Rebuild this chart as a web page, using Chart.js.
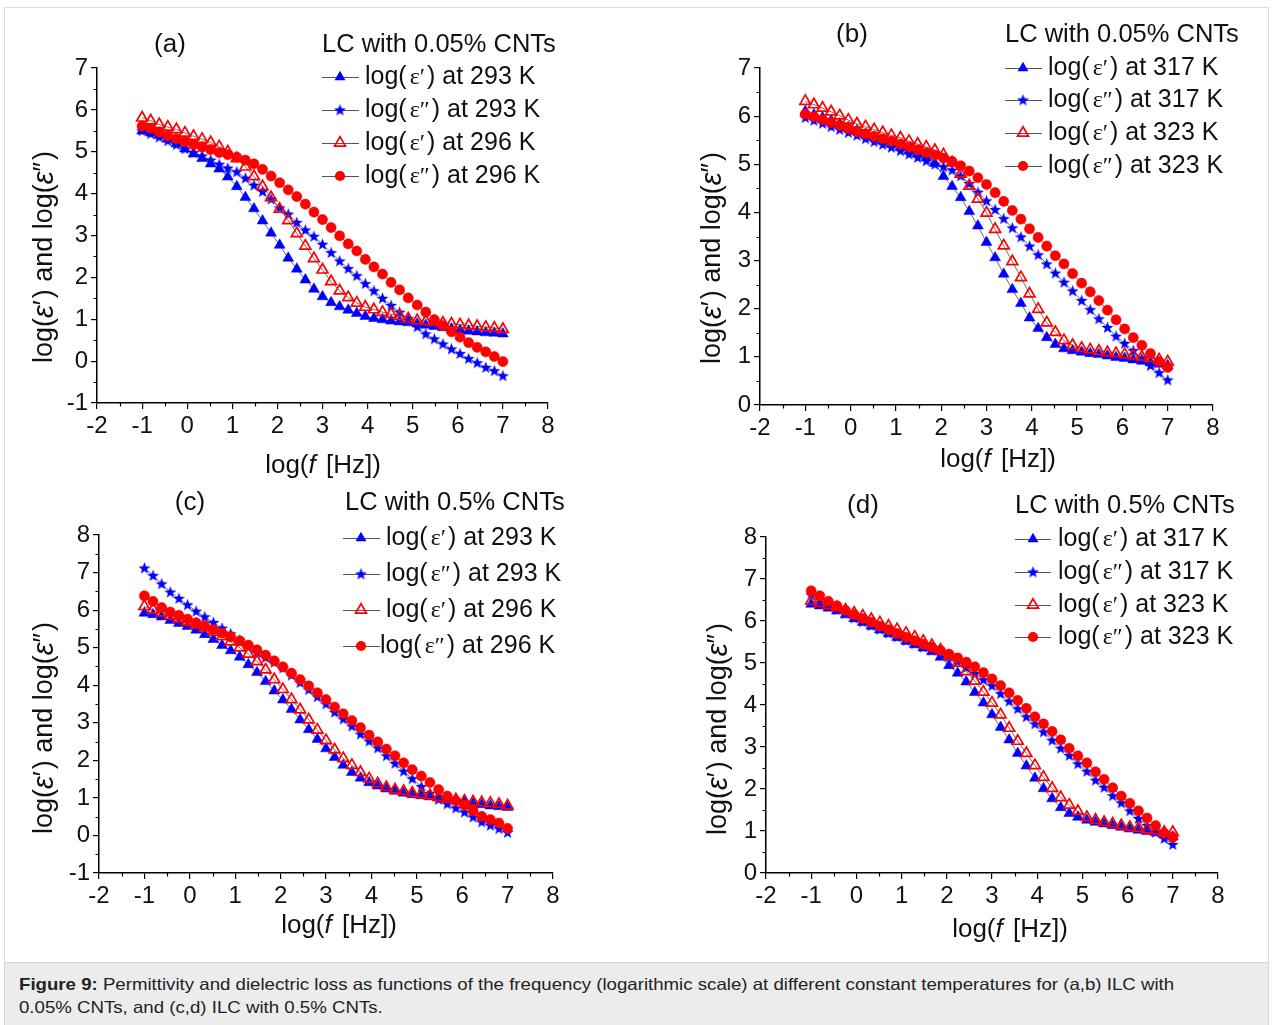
<!DOCTYPE html>
<html><head><meta charset="utf-8">
<script src="https://cdn.jsdelivr.net/npm/chart.js@4.4.1/dist/chart.umd.min.js"></script>
<style>
html,body{margin:0;padding:0;background:#fff;}
body{width:1273px;height:1025px;position:relative;overflow:hidden;font-family:"Liberation Sans",Arial,sans-serif;}
#frame{position:absolute;left:4px;top:7px;width:1265px;height:955px;border:1px solid #dcdcdc;border-bottom:none;box-sizing:border-box;}
#cap{position:absolute;left:4px;top:962px;width:1265px;height:70px;background:#ececec;border:1px solid #d4d4d4;box-sizing:border-box;}
#capText{position:absolute;left:19px;top:973px;font-size:16.5px;line-height:23px;color:#222;white-space:nowrap;transform:scaleX(1.13);transform-origin:0 0;}
canvas{position:absolute;}
</style></head>
<body>
<div id="frame"></div>
<div id="cap"></div>
<div id="capText"><b>Figure 9:</b> Permittivity and dielectric loss as functions of the frequency (logarithmic scale) at different constant temperatures for (a,b) ILC with<br>0.05% CNTs, and (c,d) ILC with 0.5% CNTs.</div>
<script>
// ---------- DATA ----------
const logF = [-1.00,-0.81,-0.62,-0.43,-0.24,-0.05,0.14,0.33,0.52,0.71,0.90,1.10,1.29,1.48,1.67,1.86,2.05,2.24,2.43,2.62,2.81,3.00,3.19,3.38,3.57,3.76,3.95,4.14,4.33,4.52,4.71,4.90,5.10,5.29,5.48,5.67,5.86,6.05,6.24,6.43,6.62,6.81,7.00];

// (a) LC with 0.05% CNTs, 293 K / 296 K
const a_eps1_293 = [5.50,5.45,5.39,5.30,5.19,5.07,4.95,4.84,4.71,4.59,4.40,4.17,3.91,3.64,3.35,3.06,2.77,2.46,2.20,1.94,1.72,1.54,1.40,1.30,1.22,1.14,1.07,1.02,0.99,0.96,0.94,0.92,0.89,0.86,0.83,0.80,0.77,0.74,0.72,0.70,0.68,0.67,0.65];
const a_eps2_293 = [5.50,5.43,5.35,5.26,5.17,5.07,4.98,4.90,4.80,4.70,4.61,4.52,4.37,4.20,4.05,3.87,3.66,3.51,3.31,3.13,2.98,2.79,2.59,2.39,2.21,2.04,1.85,1.68,1.50,1.33,1.17,1.02,0.82,0.65,0.53,0.41,0.29,0.18,0.06,-0.04,-0.15,-0.23,-0.35];
const a_eps1_296 = [5.81,5.74,5.65,5.59,5.53,5.45,5.37,5.30,5.22,5.12,5.00,4.84,4.64,4.41,4.17,3.91,3.63,3.36,3.05,2.75,2.45,2.18,1.90,1.68,1.52,1.39,1.29,1.23,1.17,1.12,1.07,1.01,0.97,0.95,0.93,0.91,0.89,0.87,0.85,0.83,0.81,0.79,0.76];
const a_eps2_296 = [5.61,5.56,5.47,5.38,5.31,5.24,5.17,5.11,5.05,4.98,4.93,4.87,4.80,4.71,4.58,4.42,4.26,4.09,3.93,3.75,3.56,3.38,3.19,2.99,2.80,2.63,2.43,2.25,2.08,1.88,1.70,1.51,1.34,1.17,0.99,0.85,0.70,0.57,0.44,0.33,0.22,0.11,-0.01];

// (b) LC with 0.05% CNTs, 317 K / 323 K
const b_eps1_317 = [6.10,6.03,5.97,5.91,5.84,5.77,5.70,5.63,5.56,5.49,5.42,5.35,5.28,5.22,5.14,5.02,4.75,4.54,4.31,4.02,3.72,3.38,3.06,2.72,2.40,2.11,1.81,1.59,1.40,1.26,1.17,1.13,1.10,1.07,1.05,1.02,0.99,0.97,0.94,0.91,0.88,0.85,0.82];
const b_eps2_317 = [5.97,5.91,5.85,5.78,5.72,5.66,5.60,5.53,5.47,5.41,5.35,5.28,5.21,5.14,5.07,5.00,4.95,4.88,4.76,4.60,4.42,4.24,4.06,3.87,3.68,3.49,3.30,3.12,2.93,2.74,2.55,2.37,2.17,1.98,1.79,1.61,1.43,1.28,1.13,0.97,0.82,0.67,0.52];
const b_eps1_323 = [6.31,6.24,6.17,6.09,6.01,5.92,5.84,5.78,5.72,5.66,5.60,5.55,5.48,5.42,5.36,5.29,5.20,5.03,4.80,4.55,4.28,3.99,3.65,3.31,2.98,2.65,2.31,1.99,1.71,1.51,1.34,1.24,1.18,1.15,1.12,1.09,1.07,1.05,1.03,1.00,0.97,0.94,0.90];
const b_eps2_323 = [6.04,5.99,5.93,5.87,5.81,5.74,5.68,5.63,5.58,5.53,5.48,5.42,5.36,5.30,5.24,5.19,5.13,5.06,4.97,4.86,4.72,4.58,4.41,4.23,4.04,3.86,3.66,3.48,3.30,3.10,2.93,2.73,2.53,2.35,2.17,1.97,1.77,1.58,1.40,1.24,1.07,0.90,0.78];

// (c) LC with 0.5% CNTs, 293 K / 296 K
const c_eps1_293 = [5.92,5.88,5.82,5.73,5.65,5.57,5.47,5.35,5.22,5.06,4.92,4.75,4.55,4.34,4.10,3.85,3.61,3.36,3.08,2.82,2.56,2.31,2.08,1.87,1.68,1.53,1.41,1.32,1.24,1.18,1.13,1.09,1.06,1.03,1.00,0.97,0.93,0.89,0.85,0.82,0.79,0.77,0.75];
const c_eps2_293 = [7.12,6.92,6.70,6.48,6.31,6.14,5.97,5.82,5.67,5.52,5.37,5.20,5.03,4.87,4.74,4.61,4.46,4.27,4.07,3.88,3.69,3.50,3.28,3.10,2.91,2.70,2.51,2.33,2.12,1.92,1.71,1.51,1.30,1.12,0.96,0.84,0.73,0.62,0.49,0.36,0.27,0.18,0.08];
const c_eps1_296 = [6.10,6.01,5.93,5.85,5.77,5.69,5.61,5.53,5.42,5.30,5.16,5.00,4.83,4.63,4.41,4.15,3.89,3.62,3.35,3.08,2.81,2.53,2.28,2.05,1.87,1.68,1.51,1.38,1.28,1.22,1.18,1.13,1.10,1.06,1.02,0.97,0.95,0.92,0.90,0.88,0.86,0.83,0.79];
const c_eps2_296 = [6.38,6.23,6.07,5.95,5.86,5.76,5.66,5.58,5.48,5.39,5.29,5.18,5.07,4.94,4.80,4.65,4.49,4.32,4.15,3.98,3.80,3.62,3.42,3.24,3.06,2.87,2.67,2.49,2.30,2.12,1.93,1.75,1.58,1.41,1.22,1.05,0.92,0.80,0.66,0.51,0.42,0.33,0.19];

// (d) LC with 0.5% CNTs, 317 K / 323 K
const d_eps1_317 = [6.40,6.36,6.31,6.24,6.15,6.06,5.97,5.88,5.79,5.70,5.61,5.52,5.44,5.36,5.27,5.14,4.94,4.76,4.55,4.30,4.05,3.77,3.47,3.17,2.85,2.55,2.26,2.01,1.77,1.56,1.42,1.33,1.26,1.21,1.17,1.13,1.09,1.05,1.02,0.99,0.96,0.91,0.86];
const d_eps2_317 = [6.62,6.50,6.38,6.28,6.18,6.07,5.98,5.89,5.80,5.71,5.62,5.53,5.46,5.38,5.31,5.24,5.15,5.04,4.89,4.75,4.60,4.46,4.27,4.09,3.91,3.72,3.55,3.36,3.16,2.97,2.80,2.60,2.42,2.21,2.04,1.84,1.67,1.48,1.30,1.13,0.97,0.82,0.68];
const d_eps1_323 = [6.48,6.42,6.37,6.32,6.26,6.19,6.12,6.04,5.96,5.88,5.80,5.71,5.62,5.52,5.42,5.31,5.16,5.00,4.80,4.57,4.31,4.05,3.77,3.45,3.14,2.85,2.56,2.28,2.02,1.80,1.62,1.47,1.33,1.26,1.21,1.17,1.13,1.09,1.07,1.03,1.00,0.97,0.97];
const d_eps2_323 = [6.72,6.60,6.47,6.36,6.25,6.15,6.06,5.97,5.88,5.79,5.70,5.61,5.53,5.45,5.37,5.30,5.21,5.12,5.02,4.91,4.77,4.62,4.46,4.29,4.11,3.92,3.72,3.55,3.37,3.17,2.97,2.79,2.62,2.41,2.23,2.03,1.83,1.66,1.48,1.31,1.13,0.95,0.85];

const xRange = [-2, 8];
const yRangeA = [-1, 7], yRangeB = [0, 7], yRangeC = [-1, 8], yRangeD = [0, 8];
const titleLow = 'LC with 0.05% CNTs', titleHigh = 'LC with 0.5% CNTs';
const tempsLow = ['293','293','296','296'], tempsHigh = ['317','317','323','323'];
const primes = ['\u2032','\u2033','\u2032','\u2033'];

// ---------- STYLE ----------
const FONT = '"Liberation Sans", Arial, Helvetica, sans-serif';
const SERIF = '"Liberation Serif", "Times New Roman", serif';
const BLUE = '#0000ff', RED = '#ff0000';
const markerKinds = ['triF','star','triO','circ'];
const TRI_R = 6.3, CIRC_R = 5.1;

function makeStar(){
  const c = document.createElement('canvas'); c.width = 15; c.height = 15;
  const g = c.getContext('2d'); g.fillStyle = BLUE; g.beginPath();
  for (let k = 0; k < 10; k++) {
    const r = (k % 2) ? 2.6 : 6.3;
    const a = -Math.PI/2 + k*Math.PI/5;
    g.lineTo(7.5 + r*Math.cos(a), 7.9 + r*Math.sin(a));
  }
  g.closePath(); g.fill(); return c;
}
const STAR = makeStar();

function drawMarker(ctx, kind, x, y){
  ctx.save();
  if (kind === 'star') { ctx.drawImage(STAR, x - 7.5, y - 7.5); ctx.restore(); return; }
  if (kind === 'circ') {
    ctx.fillStyle = RED; ctx.beginPath(); ctx.arc(x, y, CIRC_R, 0, Math.PI*2); ctx.fill();
    ctx.restore(); return;
  }
  ctx.beginPath();
  for (let k = 0; k < 3; k++) {
    const a = k * 2*Math.PI/3;
    ctx.lineTo(x + Math.sin(a)*TRI_R, y - Math.cos(a)*TRI_R);
  }
  ctx.closePath();
  if (kind === 'triF') { ctx.fillStyle = BLUE; ctx.fill(); }
  else { ctx.strokeStyle = RED; ctx.lineWidth = 1.7; ctx.stroke(); }
  ctx.restore();
}

function datasetStyle(kind){
  const base = {showLine:true, borderColor:'#4a4a4a', borderWidth:0.8, pointHoverRadius:0};
  if (kind === 'triF') return Object.assign(base,{pointStyle:'triangle', pointRadius:TRI_R, pointBackgroundColor:BLUE, pointBorderColor:BLUE, pointBorderWidth:0.5});
  if (kind === 'star') return Object.assign(base,{pointStyle:STAR, pointRadius:6});
  if (kind === 'triO') return Object.assign(base,{pointStyle:'triangle', pointRadius:TRI_R, pointBackgroundColor:'rgba(255,255,255,0)', pointBorderColor:RED, pointBorderWidth:1.7});
  return Object.assign(base,{pointStyle:'circle', pointRadius:CIRC_R, pointBackgroundColor:RED, pointBorderColor:RED, pointBorderWidth:0.5});
}

const panels = [
  {left:0, top:0, w:640, h:480, area:{l:97, r:548, t:68, b:403}, y:yRangeA,
   letter:'(a)', letterXY:[170,45], title:titleLow, titleXY:[322,45],
   rows:[77,110,143,176], lineX:[322,359], markX:340, textX:[365,365,365,365], temps:tempsLow,
   xTitleXY:[323,466], yTitleXY:[45,257], series:[a_eps1_293,a_eps2_293,a_eps1_296,a_eps2_296]},
  {left:640, top:0, w:633, h:480, area:{l:760, r:1213, t:68, b:405}, y:yRangeB,
   letter:'(b)', letterXY:[852,35], title:titleLow, titleXY:[1005,35],
   rows:[68,100,133,166], lineX:[1005,1042], markX:1023, textX:[1048,1048,1048,1048], temps:tempsHigh,
   xTitleXY:[998,460], yTitleXY:[713,258], series:[b_eps1_317,b_eps2_317,b_eps1_323,b_eps2_323]},
  {left:0, top:480, w:640, h:480, area:{l:99, r:553, t:535, b:873}, y:yRangeC,
   letter:'(c)', letterXY:[190,503], title:titleHigh, titleXY:[345,503],
   rows:[538,574,610,646], lineX:[343,380], markX:361, textX:[386,386,386,380], temps:tempsLow,
   xTitleXY:[339,926], yTitleXY:[45,728], series:[c_eps1_293,c_eps2_293,c_eps1_296,c_eps2_296]},
  {left:640, top:480, w:633, h:480, area:{l:766, r:1218, t:537, b:873}, y:yRangeD,
   letter:'(d)', letterXY:[863,506], title:titleHigh, titleXY:[1015,506],
   rows:[539,572,605,637], lineX:[1015,1051], markX:1033, textX:[1058,1058,1058,1058], temps:tempsHigh,
   xTitleXY:[1010,930], yTitleXY:[719,729], series:[d_eps1_317,d_eps2_317,d_eps1_323,d_eps2_323]}
];

function drawSegments(ctx, segs, cx, cy){
  let total = 0;
  segs.forEach(s => { ctx.font = s[1]; total += ctx.measureText(s[0]).width + (s[2]||0); });
  let x = cx - total/2;
  segs.forEach(s => { ctx.font = s[1]; ctx.fillText(s[0], x, cy); x += ctx.measureText(s[0]).width + (s[2]||0); });
}

function decor(p){
  return {
    id:'decor',
    afterDraw(chart){
      const ctx = chart.ctx, ox = p.left, oy = p.top;
      const xs = chart.scales.x, ys = chart.scales.y, ca = chart.chartArea;
      ctx.save();
      // minor ticks
      ctx.strokeStyle = '#000'; ctx.lineWidth = 1.2;
      ctx.beginPath();
      for (let v = xRange[0] + 0.5; v < xRange[1]; v += 1) {
        const px = Math.round(xs.getPixelForValue(v)) + 0.5;
        ctx.moveTo(px, ca.bottom); ctx.lineTo(px, ca.bottom + 3.5);
      }
      for (let v = p.y[0] + 0.5; v < p.y[1]; v += 1) {
        const py = Math.round(ys.getPixelForValue(v)) + 0.5;
        ctx.moveTo(ca.left, py); ctx.lineTo(ca.left - 3.5, py);
      }
      ctx.stroke();

      ctx.fillStyle = '#111'; ctx.textBaseline = 'middle';
      // panel letter
      ctx.font = `26px ${FONT}`; ctx.textAlign = 'center';
      ctx.fillText(p.letter, p.letterXY[0]-ox, p.letterXY[1]-oy);
      // title
      ctx.textAlign = 'left'; ctx.font = `25.5px ${FONT}`;
      ctx.fillText(p.title, p.titleXY[0]-ox, p.titleXY[1]-oy);
      // legend
      for (let i = 0; i < 4; i++) {
        const y = p.rows[i]-oy;
        ctx.strokeStyle = '#555'; ctx.lineWidth = 1;
        ctx.beginPath(); ctx.moveTo(p.lineX[0]-ox, y+0.5); ctx.lineTo(p.lineX[1]-ox, y+0.5); ctx.stroke();
        drawMarker(ctx, markerKinds[i], p.markX-ox, y);
        let x = p.textX[i]-ox;
        ctx.fillStyle = '#111';
        ctx.font = `25px ${FONT}`; ctx.fillText('log(', x, y); x += ctx.measureText('log(').width + 3;
        ctx.font = `24px ${SERIF}`; ctx.fillText('\u03b5' + primes[i], x, y + 1); x += ctx.measureText('\u03b5' + primes[i]).width + 2;
        ctx.font = `25px ${FONT}`; ctx.fillText(') at ' + p.temps[i] + ' K', x, y);
      }
      // x title
      const N = `26px ${FONT}`, I = `italic 26px ${FONT}`;
      drawSegments(ctx, [['log(',N],['f',I,3],[' [Hz])',N]], p.xTitleXY[0]-ox, p.xTitleXY[1]-oy);
      // y title
      ctx.save();
      ctx.translate(p.yTitleXY[0]-ox, p.yTitleXY[1]-oy); ctx.rotate(-Math.PI/2);
      const NY = `27px ${FONT}`, IY = `italic 29px ${FONT}`;
      drawSegments(ctx, [['log(',NY],['\u03b5',IY],['\u2032',NY,2],[') and log(',NY],['\u03b5',IY],['\u2033',NY,2],[')',NY]], 0, 0);
      ctx.restore();
      ctx.restore();
    }
  };
}

function axisCommon(){
  return {
    type:'linear',
    ticks:{stepSize:1, autoSkip:false, maxRotation:0, font:{family:FONT, size:24}, color:'#111', padding:3, callback:v => String(v)},
    grid:{display:true, drawOnChartArea:false, drawTicks:true, tickLength:6, color:'#000', lineWidth:1.2},
    border:{display:true, color:'#000', width:1.5}
  };
}

panels.forEach(p => {
  const cv = document.createElement('canvas');
  cv.width = p.w; cv.height = p.h;
  cv.style.left = p.left + 'px'; cv.style.top = p.top + 'px';
  cv.style.width = p.w + 'px'; cv.style.height = p.h + 'px';
  document.body.appendChild(cv);
  const aL = p.area.l - p.left, aR = p.area.r - p.left, aT = p.area.t - p.top, aB = p.area.b - p.top;
  const xAxis = axisCommon(), yAxis = axisCommon();
  xAxis.min = xRange[0]; xAxis.max = xRange[1];
  xAxis.afterFit = s => { s.height = p.h - aB; };
  yAxis.min = p.y[0]; yAxis.max = p.y[1];
  yAxis.afterFit = s => { s.width = aL; };
  new Chart(cv, {
    type:'scatter',
    data:{datasets: p.series.map((s, i) => Object.assign(datasetStyle(markerKinds[i]), {
      label: markerKinds[i],
      data: logF.map((x, j) => ({x:x, y:s[j]})),
      order: 4 - i
    }))},
    options:{
      responsive:false, animation:false, devicePixelRatio:1, events:[],
      layout:{padding:{left:0, top:aT, right:p.w - aR, bottom:0}},
      plugins:{legend:{display:false}, tooltip:{enabled:false}},
      scales:{x:xAxis, y:yAxis}
    },
    plugins:[decor(p)]
  });
});
</script>
</body></html>
